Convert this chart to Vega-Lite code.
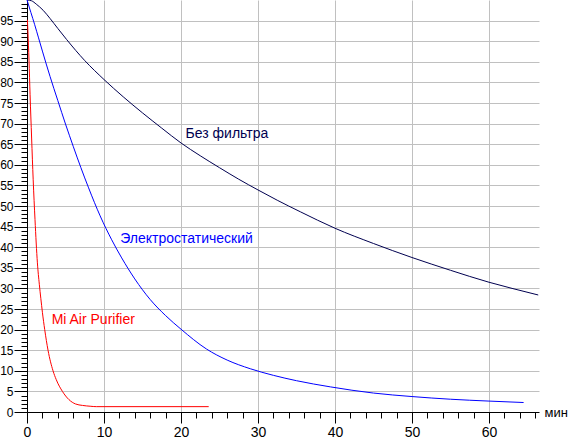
{
  "$schema": "https://vega.github.io/schema/vega-lite/v6.json",
  "width": 512,
  "height": 412,
  "autosize": {"type": "none"},
  "padding": {"left": 27, "top": 0, "right": 29, "bottom": 26},
  "background": "white",
  "config": {"view": {"stroke": null}, "font": "Liberation Sans"},
  "datasets": {
    "curves": [
      {"s": "Без фильтра", "t": 0, "v": 100},
      {"s": "Без фильтра", "t": 0.6, "v": 99.8},
      {"s": "Без фильтра", "t": 1.2, "v": 99.0},
      {"s": "Без фильтра", "t": 2.1, "v": 97.5},
      {"s": "Без фильтра", "t": 3, "v": 95.5},
      {"s": "Без фильтра", "t": 4, "v": 93.1},
      {"s": "Без фильтра", "t": 5.15, "v": 90.4},
      {"s": "Без фильтра", "t": 7.5, "v": 85.3},
      {"s": "Без фильтра", "t": 10, "v": 80.7},
      {"s": "Без фильтра", "t": 12.5, "v": 76.5},
      {"s": "Без фильтра", "t": 15, "v": 72.6},
      {"s": "Без фильтра", "t": 17.5, "v": 68.9},
      {"s": "Без фильтра", "t": 20, "v": 65.3},
      {"s": "Без фильтра", "t": 22.5, "v": 62.2},
      {"s": "Без фильтра", "t": 25, "v": 59.3},
      {"s": "Без фильтра", "t": 27.5, "v": 56.5},
      {"s": "Без фильтра", "t": 30, "v": 53.9},
      {"s": "Без фильтра", "t": 32.5, "v": 51.4},
      {"s": "Без фильтра", "t": 35.5, "v": 48.6},
      {"s": "Без фильтра", "t": 40, "v": 44.6},
      {"s": "Без фильтра", "t": 45, "v": 40.9},
      {"s": "Без фильтра", "t": 50, "v": 37.5},
      {"s": "Без фильтра", "t": 55, "v": 34.4},
      {"s": "Без фильтра", "t": 60, "v": 31.5},
      {"s": "Без фильтра", "t": 63, "v": 30.0},
      {"s": "Без фильтра", "t": 66.4, "v": 28.4},
      {"s": "Электростатический", "t": 0, "v": 100},
      {"s": "Электростатический", "t": 0.5, "v": 97},
      {"s": "Электростатический", "t": 1, "v": 94},
      {"s": "Электростатический", "t": 1.5, "v": 90.8},
      {"s": "Электростатический", "t": 2, "v": 87.6},
      {"s": "Электростатический", "t": 3, "v": 81.4},
      {"s": "Электростатический", "t": 4, "v": 75.6},
      {"s": "Электростатический", "t": 5, "v": 69.9},
      {"s": "Электростатический", "t": 6, "v": 64.5},
      {"s": "Электростатический", "t": 7, "v": 59.3},
      {"s": "Электростатический", "t": 8, "v": 54.4},
      {"s": "Электростатический", "t": 9.5, "v": 47.6},
      {"s": "Электростатический", "t": 11, "v": 41.8},
      {"s": "Электростатический", "t": 12.3, "v": 37.4},
      {"s": "Электростатический", "t": 14, "v": 32.3},
      {"s": "Электростатический", "t": 16, "v": 27.3},
      {"s": "Электростатический", "t": 18, "v": 23.4},
      {"s": "Электростатический", "t": 20, "v": 20.1},
      {"s": "Электростатический", "t": 23.3, "v": 15.3},
      {"s": "Электростатический", "t": 26, "v": 12.6},
      {"s": "Электростатический", "t": 29, "v": 10.5},
      {"s": "Электростатический", "t": 32, "v": 8.9},
      {"s": "Электростатический", "t": 35, "v": 7.6},
      {"s": "Электростатический", "t": 39.4, "v": 6.1},
      {"s": "Электростатический", "t": 45, "v": 4.6},
      {"s": "Электростатический", "t": 50, "v": 3.75},
      {"s": "Электростатический", "t": 55, "v": 3.1},
      {"s": "Электростатический", "t": 60, "v": 2.65},
      {"s": "Электростатический", "t": 64.5, "v": 2.3},
      {"s": "Mi Air Purifier", "t": 0.05, "v": 95.2},
      {"s": "Mi Air Purifier", "t": 0.12, "v": 92.3},
      {"s": "Mi Air Purifier", "t": 0.26, "v": 85.4},
      {"s": "Mi Air Purifier", "t": 0.4, "v": 77},
      {"s": "Mi Air Purifier", "t": 0.6, "v": 66.5},
      {"s": "Mi Air Purifier", "t": 0.8, "v": 56.5},
      {"s": "Mi Air Purifier", "t": 1.04, "v": 46.7},
      {"s": "Mi Air Purifier", "t": 1.35, "v": 36.2},
      {"s": "Mi Air Purifier", "t": 1.6, "v": 31},
      {"s": "Mi Air Purifier", "t": 1.8, "v": 27.5},
      {"s": "Mi Air Purifier", "t": 2.0, "v": 24.2},
      {"s": "Mi Air Purifier", "t": 2.3, "v": 20},
      {"s": "Mi Air Purifier", "t": 2.73, "v": 15},
      {"s": "Mi Air Purifier", "t": 3.38, "v": 10},
      {"s": "Mi Air Purifier", "t": 3.8, "v": 7.85},
      {"s": "Mi Air Purifier", "t": 4.6, "v": 5},
      {"s": "Mi Air Purifier", "t": 5.45, "v": 3.0},
      {"s": "Mi Air Purifier", "t": 6.3, "v": 1.95},
      {"s": "Mi Air Purifier", "t": 7.2, "v": 1.6},
      {"s": "Mi Air Purifier", "t": 8.2, "v": 1.4},
      {"s": "Mi Air Purifier", "t": 9.0, "v": 1.3},
      {"s": "Mi Air Purifier", "t": 23.6, "v": 1.3}
    ],
    "labels": [
      {"s": "Без фильтра", "t": 20.6, "v": 66.5},
      {"s": "Электростатический", "t": 12.1, "v": 41.0},
      {"s": "Mi Air Purifier", "t": 3.2, "v": 21.4}
    ]
  },
  "encoding": {
    "x": {
      "field": "t",
      "type": "quantitative",
      "scale": {"domain": [0, 66.5], "nice": false},
      "axis": {
        "values": [0,2,4,6,8,10,12,14,16,18,20,22,24,26,28,30,32,34,36,38,40,42,44,46,48,50,52,54,56,58,60,62,64,66],
        "labelExpr": "datum.value % 10 === 0 ? datum.label : ''",
        "labelFontSize": 14,
        "labelColor": "black",
        "labelPadding": 2,
        "labelOverlap": false,
        "labelFlush": false,
        "tickSize": {"condition": {"test": "datum.value % 10 === 0", "value": 11}, "value": 6},
        "tickColor": "black",
        "domainColor": "black",
        "grid": true,
        "gridColor": "#c0c0c0",
        "gridOpacity": {"condition": {"test": "datum.value % 10 === 0 && datum.value > 0", "value": 1}, "value": 0},
        "title": "мин",
        "titleX": 517,
        "titleY": 4,
        "titleAlign": "left",
        "titleBaseline": "alphabetic",
        "titleFontSize": 13,
        "titleFontWeight": "normal",
        "titleColor": "black"
      }
    },
    "y": {
      "field": "v",
      "type": "quantitative",
      "scale": {"domain": [0, 100], "nice": false},
      "axis": {
        "values": [0,1,2,3,4,5,6,7,8,9,10,11,12,13,14,15,16,17,18,19,20,21,22,23,24,25,26,27,28,29,30,31,32,33,34,35,36,37,38,39,40,41,42,43,44,45,46,47,48,49,50,51,52,53,54,55,56,57,58,59,60,61,62,63,64,65,66,67,68,69,70,71,72,73,74,75,76,77,78,79,80,81,82,83,84,85,86,87,88,89,90,91,92,93,94,95,96,97,98,99],
        "labelExpr": "datum.value % 5 === 0 ? datum.label : ''",
        "labelFontSize": 12,
        "labelColor": "black",
        "labelPadding": 1,
        "labelOverlap": false,
        "labelFlush": false,
        "tickSize": {"condition": {"test": "datum.value % 5 === 0", "value": 13}, "value": 6},
        "tickColor": "black",
        "domainColor": "black",
        "grid": true,
        "gridColor": "#c0c0c0",
        "gridOpacity": {"condition": {"test": "datum.value % 5 === 0 && datum.value > 0", "value": 1}, "value": 0},
        "title": null
      }
    },
    "color": {
      "field": "s",
      "type": "nominal",
      "scale": {"domain": ["Без фильтра", "Электростатический", "Mi Air Purifier"], "range": ["#000050", "#0000ff", "#ff0000"]},
      "legend": null
    }
  },
  "layer": [
    {
      "data": {"name": "curves"},
      "mark": {"type": "line", "strokeWidth": 1, "interpolate": "monotone"}
    },
    {
      "data": {"name": "labels"},
      "mark": {"type": "text", "align": "left", "baseline": "alphabetic", "fontSize": 14},
      "encoding": {"text": {"field": "s"}}
    }
  ]
}
